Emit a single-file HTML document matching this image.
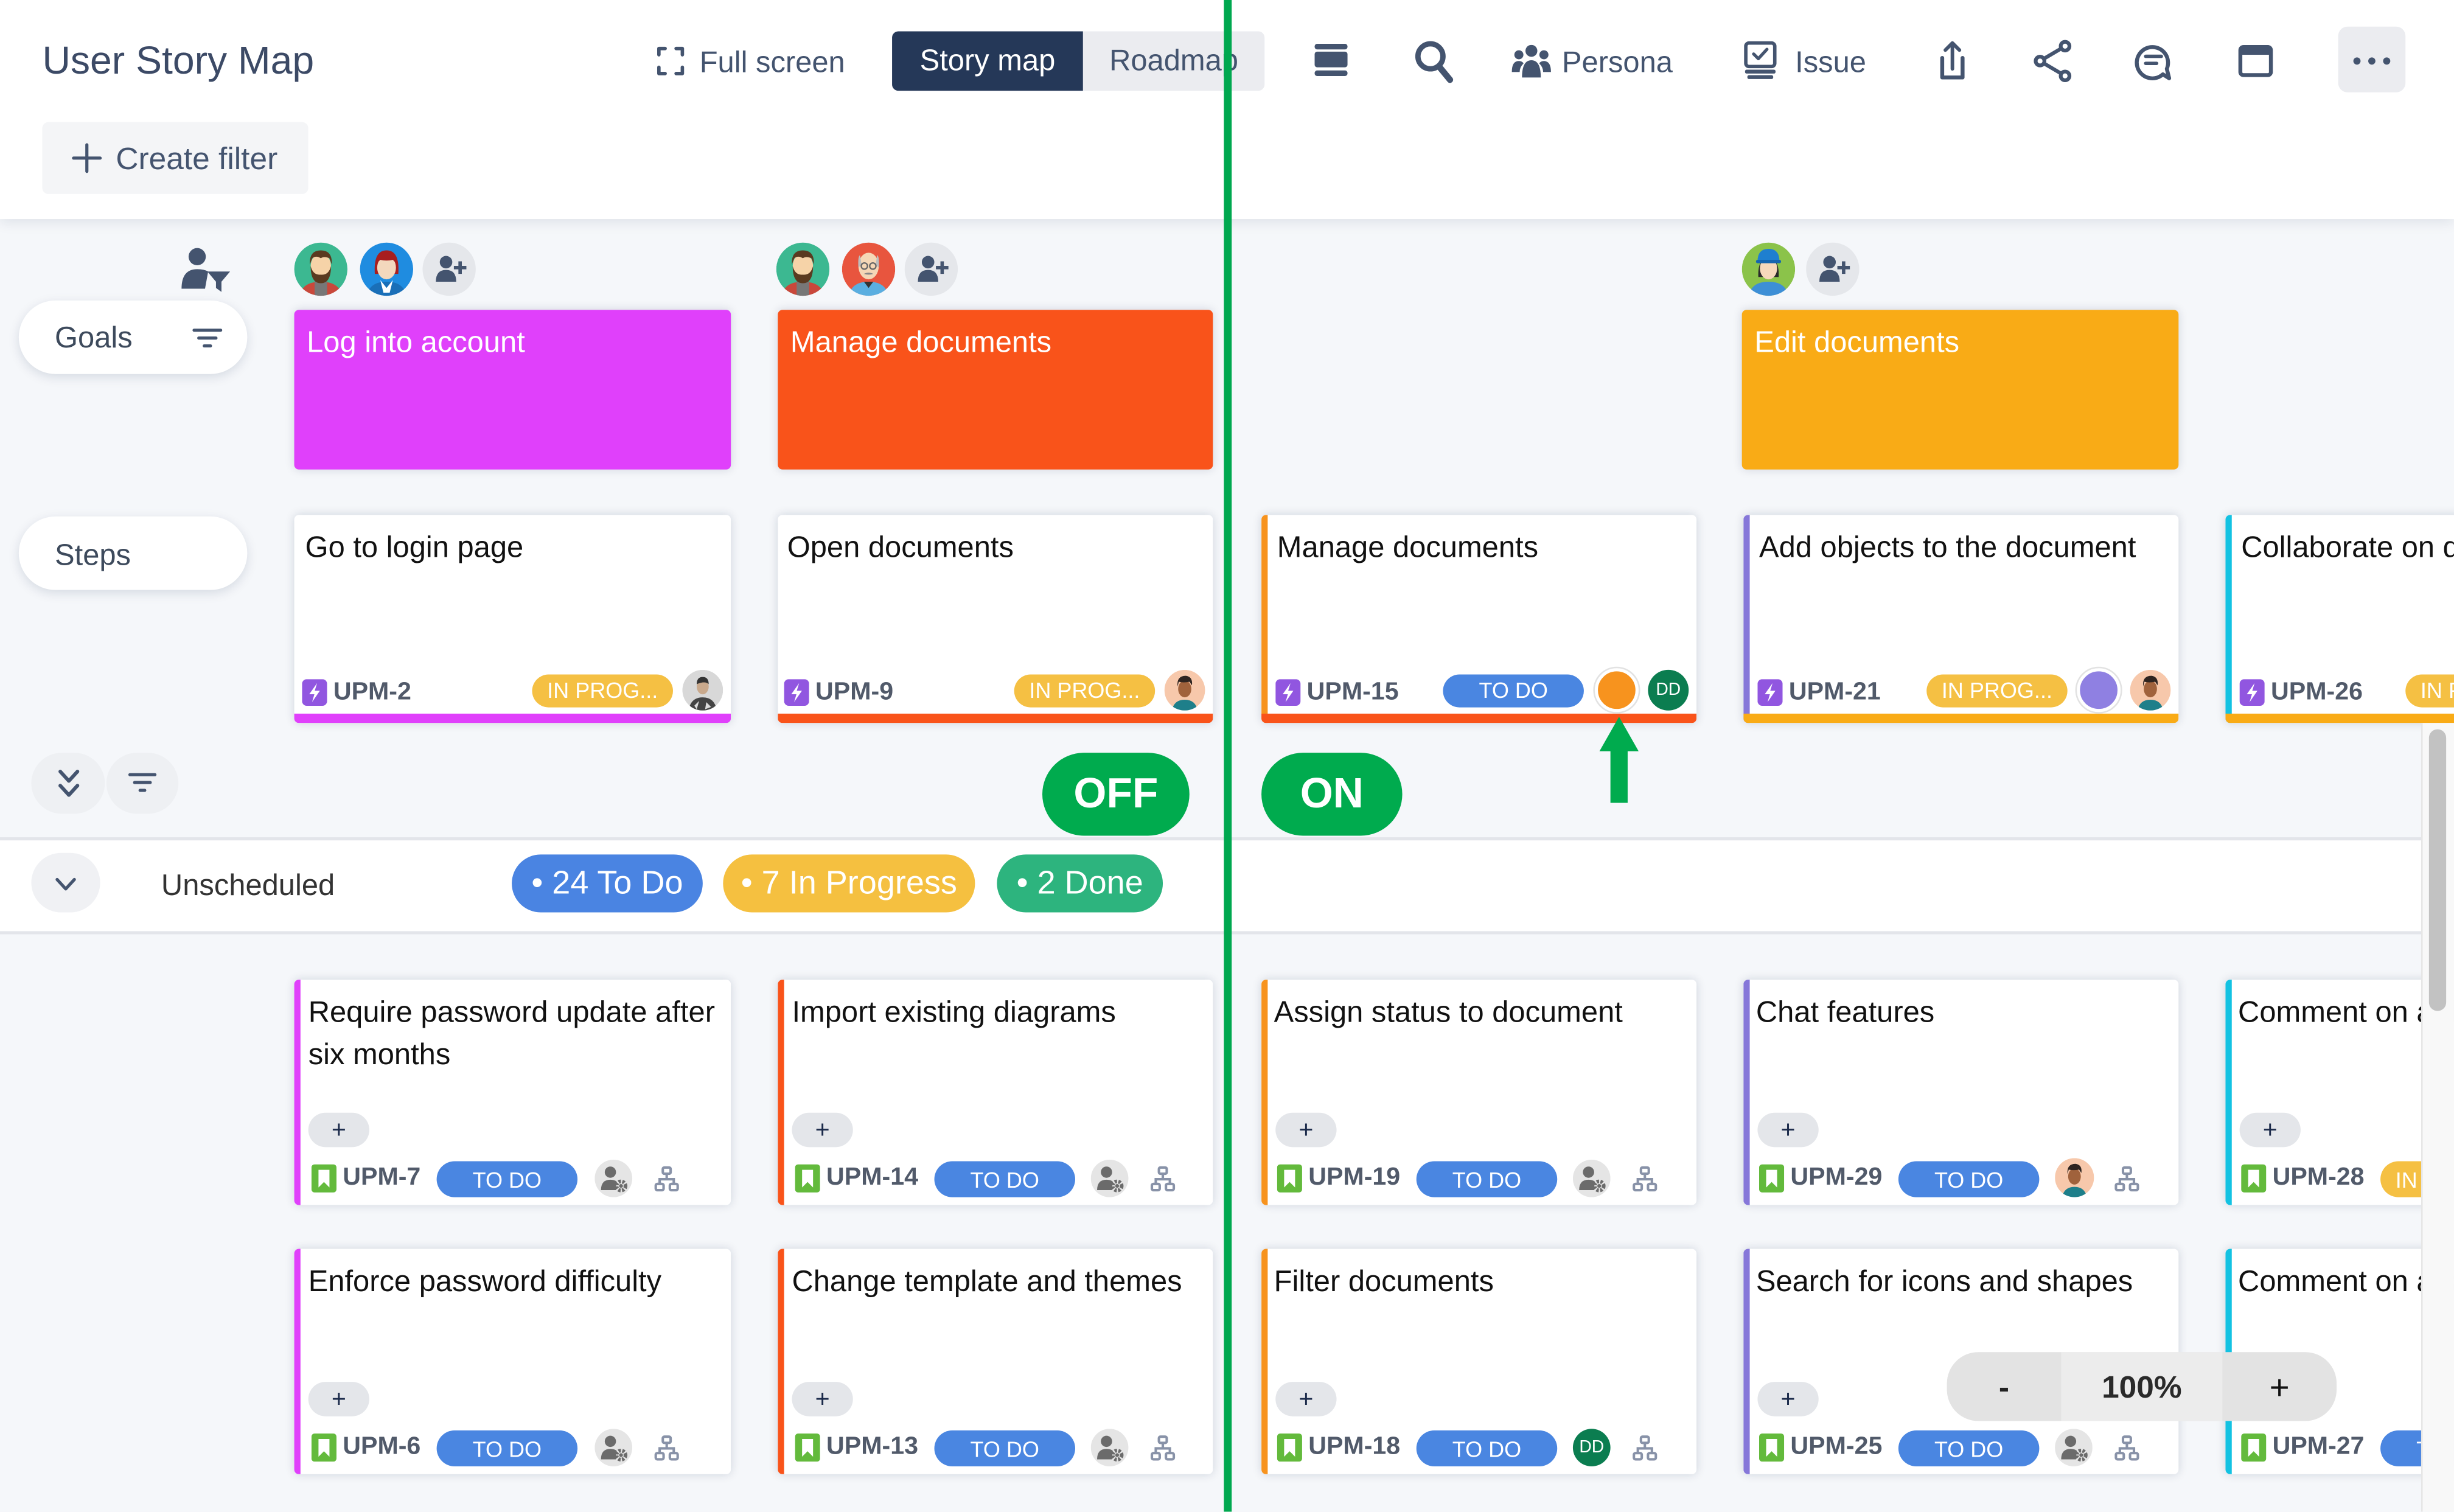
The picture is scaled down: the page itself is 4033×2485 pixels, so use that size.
<!DOCTYPE html>
<html><head><meta charset="utf-8">
<style>
html,body{margin:0;padding:0;width:4033px;height:2484px;overflow:hidden;background:#f5f7fa;}
#s{position:absolute;left:0;top:0;width:1568px;height:966px;transform:scale(2.57206);transform-origin:0 0;overflow:hidden;background:#f5f7fa;font-family:"Liberation Sans",Arial,sans-serif;}
.a{position:absolute;}
.hdr{left:0;top:0;width:1568px;height:140px;background:#fff;box-shadow:0 2px 8px rgba(9,30,66,.10);}
.ht{color:#44546f;font-size:19px;line-height:22px;top:30px;white-space:nowrap;}
.pillL{left:12px;width:146px;height:47px;background:#fff;border-radius:24px;box-shadow:0 2px 7px rgba(9,30,66,.13);}
.pillL span{position:absolute;left:23px;top:14px;font-size:19px;line-height:22px;color:#3d4a5c;}
.goal{top:198px;height:102px;border-radius:3px;box-shadow:0 0 6px rgba(9,30,66,.15);}
.goal span{position:absolute;left:8px;top:11px;color:#fff;font-size:19px;line-height:22px;white-space:nowrap;}
.card{background:#fff;border-radius:3px;box-shadow:0 0 6px rgba(9,30,66,.16);overflow:hidden;}
.step{top:329px;height:133px;}
.low1{top:626px;height:144px;}
.low2{top:798px;height:144px;}
.bb{position:absolute;left:0;right:0;bottom:0;height:6px;}
.lb{position:absolute;left:0;top:0;bottom:0;width:4px;}
.tt{position:absolute;top:11px;font-size:19px;line-height:22px;color:#111;white-space:nowrap;}
.lt{position:absolute;top:7.5px;font-size:19px;line-height:27px;color:#111;white-space:nowrap;}
.key{position:absolute;font-weight:bold;font-size:16px;line-height:18px;color:#515a6a;white-space:nowrap;}
.st{position:absolute;width:90px;height:21px;border-radius:11px;color:#fff;font-size:14px;line-height:21px;text-align:center;white-space:nowrap;overflow:hidden;}
.ip{background:#f5c043;}
.td{background:#4a86e1;}
.plus{position:absolute;left:9px;top:85px;width:39px;height:22px;border-radius:11px;background:#e4e6ea;}
.ico{position:absolute;}
.cnt{top:546px;height:37px;border-radius:19px;color:#fff;font-size:21px;line-height:37px;text-align:center;white-space:nowrap;}
.onoff{top:481px;height:53px;border-radius:27px;background:#00ab4e;color:#fff;font-weight:bold;font-size:27px;line-height:53px;text-align:center;}
</style></head><body>
<div id="s">
<svg width="0" height="0" style="position:absolute">
<defs>
<symbol id="bolt" viewBox="0 0 16 17"><rect width="16" height="17" rx="3" fill="#9156e0"/><path d="M9.6 2.5 L4.6 9.6 H7.9 L6.4 14.6 L11.4 7.4 H8.1 Z" fill="#fff"/></symbol>
<symbol id="bm" viewBox="0 0 16 18"><rect width="16" height="18" rx="2" fill="#63ba3c"/><path d="M4.5 3.5 H11.5 V14.8 L8 11.3 L4.5 14.8 Z" fill="#fff"/></symbol>
<symbol id="gp" viewBox="0 0 24 24"><circle cx="12" cy="12" r="12" fill="#e5e5e5"/><circle cx="10" cy="8" r="3.6" fill="#6b6b6b"/><path d="M4 19.5 Q4 12.8 10 12.8 Q12.6 12.8 14 14 L13.5 19.5Z" fill="#6b6b6b"/><circle cx="16.8" cy="16.8" r="2.9" fill="none" stroke="#6b6b6b" stroke-width="2.4" stroke-dasharray="1.5 0.9"/><circle cx="16.8" cy="16.8" r="1.2" fill="#6b6b6b"/></symbol>
<symbol id="hi" viewBox="0 0 16 17"><g fill="none" stroke="#8892a8" stroke-width="1.6"><rect x="5.5" y="1" width="5" height="4" rx="1"/><path d="M8 5 V8.5 M3.5 11 V8.5 H12.5 V11"/><rect x="1" y="11.5" width="5" height="4" rx="1"/><rect x="10" y="11.5" width="5" height="4" rx="1"/></g></symbol>
<clipPath id="cc"><circle cx="17" cy="17" r="17"/></clipPath>
<symbol id="av1" viewBox="0 0 34 34"><g clip-path="url(#cc)"><circle cx="17" cy="17" r="17" fill="#3cb891"/><path d="M3 36 Q4 25 17 25 Q30 25 31 36Z" fill="#c9483b"/><rect x="13" y="24" width="8" height="12" fill="#777"/><ellipse cx="17" cy="15" rx="6.5" ry="8" fill="#f6d3a8"/><path d="M10 14 Q9.5 5 17 5 Q24.5 5 24 14 L22.5 10 Q19 8.5 17 10 Q14 8 11.5 10Z" fill="#5a3a20"/><path d="M10.5 15 Q10.5 26 17 26 Q23.5 26 23.5 15 Q22 21 17 20.5 Q12 21 10.5 15Z" fill="#5a3a20"/></g></symbol>
<symbol id="av2" viewBox="0 0 34 34"><g clip-path="url(#cc)"><circle cx="17" cy="17" r="17" fill="#1f8ce0"/><path d="M4 36 Q5 25 17 25 Q29 25 30 36Z" fill="#1a6fb8"/><path d="M13 24 L17 29 L21 24 L19 32 H15Z" fill="#fff"/><path d="M9.5 20 Q8.5 5 17 5 Q25.5 5 24.5 20Z" fill="#a81e1e"/><ellipse cx="17" cy="16" rx="6" ry="7.5" fill="#f3d8bd"/><path d="M11 13 Q12 7.5 17 7.5 Q22 7.5 23 13 L21 11 Q17 12 13 11Z" fill="#a81e1e"/></g></symbol>
<symbol id="av3" viewBox="0 0 34 34"><g clip-path="url(#cc)"><circle cx="17" cy="17" r="17" fill="#e8553e"/><path d="M4 36 Q5 25 17 25 Q29 25 30 36Z" fill="#5aaee0"/><path d="M14 25 L17 29 L20 25Z" fill="#333"/><ellipse cx="17" cy="15" rx="6.5" ry="8.5" fill="#f5d7b6"/><path d="M10.5 16 Q10 9 11.5 8 L12.5 14Z M23.5 16 Q24 9 22.5 8 L21.5 14Z" fill="#bdbdbd"/><circle cx="14.3" cy="15" r="2" fill="none" stroke="#666" stroke-width="0.9"/><circle cx="19.7" cy="15" r="2" fill="none" stroke="#666" stroke-width="0.9"/><path d="M14 20 Q17 18.5 20 20 Q17 21 14 20Z" fill="#888"/></g></symbol>
<symbol id="av4" viewBox="0 0 34 34"><g clip-path="url(#cc)"><circle cx="17" cy="17" r="17" fill="#8bc34a"/><path d="M4 36 Q5 25 17 25 Q29 25 30 36Z" fill="#3d8fd6"/><path d="M10.5 22 Q10 10 17 10 Q24 10 23.5 22Z" fill="#2a2a2a"/><ellipse cx="17" cy="16.5" rx="5.5" ry="7" fill="#f6d8bb"/><path d="M10 12 Q10 4 17 4 Q24 4 24 12Z" fill="#1e7fd0"/><rect x="9" y="11" width="16" height="2.2" rx="1" fill="#1565b0"/></g></symbol>
<symbol id="av5" viewBox="0 0 34 34"><g clip-path="url(#cc)"><circle cx="17" cy="17" r="17" fill="#f7c8ab"/><path d="M6 36 Q7 25 17 25 Q27 25 28 36Z" fill="#1e7f8a"/><ellipse cx="17" cy="16" rx="5.5" ry="7" fill="#a0623c"/><path d="M11 14 Q10 5 18 5 Q24 6 23 13 L21 10 Q16 11 12 10Z" fill="#2f2420"/></g></symbol>
<symbol id="av6" viewBox="0 0 34 34"><g clip-path="url(#cc)"><circle cx="17" cy="17" r="17" fill="#d8d8d8"/><path d="M5 36 Q6 23 17 23 Q28 23 29 36Z" fill="#444"/><path d="M10 30 L14 26 L12 33Z M20 27 L24 31 L19 33Z" fill="#ddd"/><ellipse cx="17" cy="14" rx="5" ry="6.5" fill="#c9a98c"/><path d="M12 12 Q12 6 17 6 Q22 6 22 12 Q19 9 12 12Z" fill="#333"/></g></symbol>
<symbol id="addp" viewBox="0 0 34 34"><circle cx="17" cy="17" r="17" fill="#e5e7eb"/><circle cx="15" cy="12.5" r="4" fill="#44546f"/><path d="M8.5 25 Q8.5 17.5 15 17.5 Q21.5 17.5 21.5 25Z" fill="#44546f"/><path d="M24 12 V20 M20 16 H28" stroke="#44546f" stroke-width="2.2"/></symbol>
</defs>
</svg>

<!-- Header -->
<div class="a hdr"></div>
<div class="a" style="left:27px;top:24px;font-size:25px;line-height:30px;color:#3c4a66;white-space:nowrap;">User Story Map</div>
<div class="a ht" style="left:447px;">Full screen</div>
<div class="a" style="left:570px;top:20px;width:122px;height:38px;background:#253858;border-radius:4px 0 0 4px;color:#fff;font-size:19px;line-height:40px;text-align:center;">Story map</div>
<div class="a" style="left:692px;top:20px;width:116px;height:38px;background:#ebecf0;border-radius:0 4px 4px 0;color:#44546f;font-size:19px;line-height:40px;text-align:center;">Roadmap</div>
<div class="a ht" style="left:998px;">Persona</div>
<div class="a ht" style="left:1147px;">Issue</div>
<div class="a" style="left:1494px;top:17px;width:43px;height:42px;background:#ebecf0;border-radius:6px;"></div>
<div class="a" style="left:27px;top:78px;width:170px;height:46px;background:#f4f5f7;border-radius:4px;"></div>
<div class="a" style="left:74px;top:91px;font-size:20px;line-height:22px;color:#44546f;white-space:nowrap;">Create filter</div>

<svg class="a" style="left:0;top:0" width="1568" height="240">
<g fill="none" stroke="#44546f" stroke-width="2.2" stroke-linecap="round" stroke-linejoin="round">
<path d="M421 35 V31 H425 M432 31 H436 V35 M436 43 V47 H432 M425 47 H421 V43"/>
<path d="M47 101 H64 M55.5 92.5 V109.5" stroke-width="2"/>
<circle cx="914" cy="36" r="8" stroke-width="3.4"/>
<path d="M919.5 42.5 L926.5 51" stroke-width="4"/>
<rect x="1115.5" y="27.5" width="18.5" height="15" rx="2" stroke-width="2.2"/>
<path d="M1120.5 34.5 L1123.5 37.5 L1129 31.5" stroke-width="2"/>
<path d="M1241 37 V49.5 H1254 V37" stroke-width="2.5"/>
<path d="M1247.5 44 V27.5 M1243 32 L1247.5 27.5 L1252 32" stroke-width="2.3"/>
<circle cx="1319.5" cy="29.5" r="2.8" stroke-width="2.4"/><circle cx="1303.5" cy="39" r="2.8" stroke-width="2.4"/><circle cx="1319.5" cy="48.5" r="2.8" stroke-width="2.4"/>
<path d="M1317 31 L1306 37.5 M1306 40.5 L1317 47" stroke-width="2.4"/>
<path d="M1382 47.5 A10 10 0 1 1 1384.5 44 L1386 50 Z" stroke-width="2.5"/>
<path d="M1371 36 H1381 M1371 40.5 H1378" stroke-width="2.2"/>
<rect x="1431.5" y="30" width="19.5" height="18" rx="2" stroke-width="2.5"/>
</g>
<g fill="#44546f">
<rect x="840" y="28" width="21" height="3.6" rx="1.6"/><rect x="840" y="33" width="21" height="10" rx="1.6"/><rect x="840" y="45" width="21" height="3.6" rx="1.6"/>
<circle cx="978.5" cy="32.5" r="3.8"/><circle cx="970.5" cy="35" r="2.9"/><circle cx="986.5" cy="35" r="2.9"/>
<path d="M972.5 49.5 Q972.5 38.5 978.5 38.5 Q984.5 38.5 984.5 49.5Z"/>
<path d="M966 46 Q966 39 970.5 39 Q972.5 39 973.5 40.5 Q971 43 971 46Z"/>
<path d="M991 46 Q991 39 986.5 39 Q984.5 39 983.5 40.5 Q986 43 986 46Z"/>
<rect x="1115" y="44.5" width="19.5" height="2.5" rx="1"/><rect x="1116.5" y="48" width="16.5" height="2.5" rx="1"/>
<rect x="1431.5" y="30" width="19.5" height="5"/>
<circle cx="1506" cy="39" r="2.3"/><circle cx="1515.5" cy="39" r="2.3"/><circle cx="1525" cy="39" r="2.3"/>
<circle cx="126" cy="164" r="5.5"/>
<path d="M116 184.5 Q116 172 126 172 Q130.5 172 133 173.5 L131 184.5Z"/>
<path d="M132.5 173.5 H147 L141.5 180 V186.5 L138 184 V180Z"/>
</g>
</svg>

<!-- avatars -->
<svg class="a" style="left:188px;top:155px" width="34" height="34"><use href="#av1"/></svg>
<svg class="a" style="left:230px;top:155px" width="34" height="34"><use href="#av2"/></svg>
<svg class="a" style="left:270px;top:155px" width="34" height="34"><use href="#addp"/></svg>
<svg class="a" style="left:496px;top:155px" width="34" height="34"><use href="#av1"/></svg>
<svg class="a" style="left:538px;top:155px" width="34" height="34"><use href="#av3"/></svg>
<svg class="a" style="left:578px;top:155px" width="34" height="34"><use href="#addp"/></svg>
<svg class="a" style="left:1113px;top:155px" width="34" height="34"><use href="#av4"/></svg>
<svg class="a" style="left:1154px;top:155px" width="34" height="34"><use href="#addp"/></svg>

<!-- Goals / Steps -->
<div class="a pillL" style="top:192px;"><span>Goals</span></div>
<svg class="a" style="left:120px;top:205px" width="26" height="24"><path d="M4 6 H21 M7 11 H18 M10.5 16 H14.5" stroke="#44546f" stroke-width="2" fill="none" stroke-linecap="round"/></svg>
<div class="a pillL" style="top:330px;"><span style="top:15px">Steps</span></div>

<div class="a goal" style="left:188px;width:279px;background:#e040fb;"><span>Log into account</span></div>
<div class="a goal" style="left:497px;width:278px;background:#f9531a;"><span>Manage documents</span></div>
<div class="a goal" style="left:1113px;width:279px;background:#f9ab16;"><span>Edit documents</span></div>

<!-- Step cards -->
<div class="a card step" style="left:188px;width:279px;">
 <div class="bb" style="background:#e040fb"></div>
 <div class="tt" style="left:7px">Go to login page</div>
 <svg class="ico" style="left:5px;top:105px" width="16" height="17"><use href="#bolt"/></svg>
 <div class="key" style="left:25px;top:105px">UPM-2</div>
 <div class="st ip" style="left:152px;top:102px">IN PROG...</div>
 <svg class="ico" style="left:248px;top:99px" width="26" height="26" viewBox="0 0 34 34"><use href="#av6"/></svg>
</div>
<div class="a card step" style="left:497px;width:278px;">
 <div class="bb" style="background:#f9531a"></div>
 <div class="tt" style="left:6px">Open documents</div>
 <svg class="ico" style="left:4px;top:105px" width="16" height="17"><use href="#bolt"/></svg>
 <div class="key" style="left:24px;top:105px">UPM-9</div>
 <div class="st ip" style="left:151px;top:102px">IN PROG...</div>
 <svg class="ico" style="left:247px;top:99px" width="26" height="26" viewBox="0 0 34 34"><use href="#av5"/></svg>
</div>
<div class="a card step" style="left:806px;width:278px;">
 <div class="lb" style="background:#f7931e"></div>
 <div class="bb" style="background:#f9531a"></div>
 <div class="tt" style="left:10px">Manage documents</div>
 <svg class="ico" style="left:9px;top:105px" width="16" height="17"><use href="#bolt"/></svg>
 <div class="key" style="left:29px;top:105px">UPM-15</div>
 <div class="st td" style="left:116px;top:102px">TO DO</div>
 <div class="ico" style="left:213px;top:98px;width:24px;height:24px;border-radius:50%;background:#f7931e;border:2px solid #fff;box-shadow:0 0 0 1px #e2e2e2;"></div>
 <div class="ico" style="left:247px;top:99px;width:26px;height:26px;border-radius:50%;background:#0b7d50;color:#fff;font-size:11px;line-height:26px;text-align:center;">DD</div>
</div>
<div class="a card step" style="left:1114px;width:278px;">
 <div class="lb" style="background:#8677d9"></div>
 <div class="bb" style="background:#f9ab16"></div>
 <div class="tt" style="left:10px">Add objects to the document</div>
 <svg class="ico" style="left:9px;top:105px" width="16" height="17"><use href="#bolt"/></svg>
 <div class="key" style="left:29px;top:105px">UPM-21</div>
 <div class="st ip" style="left:117px;top:102px">IN PROG...</div>
 <div class="ico" style="left:213px;top:98px;width:24px;height:24px;border-radius:50%;background:#8f80e2;border:2px solid #fff;box-shadow:0 0 0 1px #e2e2e2;"></div>
 <svg class="ico" style="left:247px;top:99px" width="26" height="26" viewBox="0 0 34 34"><use href="#av5"/></svg>
</div>
<div class="a card step" style="left:1422px;width:279px;">
 <div class="lb" style="background:#13c2e2"></div>
 <div class="bb" style="background:#f9ab16"></div>
 <div class="tt" style="left:10px">Collaborate on documents</div>
 <svg class="ico" style="left:9px;top:105px" width="16" height="17"><use href="#bolt"/></svg>
 <div class="key" style="left:29px;top:105px">UPM-26</div>
 <div class="st ip" style="left:115px;top:102px">IN PROG...</div>
</div>

<!-- controls row -->
<div class="a" style="left:20px;top:481px;width:47px;height:39px;border-radius:20px;background:#eef0f3;"></div>
<div class="a" style="left:68px;top:481px;width:46px;height:39px;border-radius:20px;background:#eef0f3;"></div>
<svg class="a" style="left:0;top:470px" width="130" height="130">
<g fill="none" stroke="#44546f" stroke-width="2.3" stroke-linecap="round" stroke-linejoin="round">
<path d="M38.5 23 L44 29 L49.5 23 M38.5 32 L44 38 L49.5 32"/>
<path d="M83 25 H99 M86 30 H96 M89.5 35 H92.5" stroke-width="2"/>
<path d="M36.5 92 L42 98 L47.5 92" stroke-width="2"/>
</g>
</svg>
<div class="a onoff" style="left:666px;width:94px;">OFF</div>
<div class="a onoff" style="left:806px;width:90px;">ON</div>
<svg class="a" style="left:1015px;top:450px" width="40" height="70"><path d="M7 30 L19.5 8 L32 30 H25 V63 H14 V30 Z" fill="#00ab4e"/></svg>

<!-- Unscheduled row -->
<div class="a" style="left:0;top:535px;width:1548px;height:58px;background:#fff;border-top:2px solid #e3e5ea;border-bottom:2px solid #e3e5ea;"></div>
<div class="a" style="left:20px;top:545px;width:44px;height:38px;border-radius:20px;background:#f0f1f4;"></div>
<svg class="a" style="left:0;top:540px" width="80" height="50"><path d="M36.5 22 L42 28 L47.5 22" fill="none" stroke="#44546f" stroke-width="2" stroke-linecap="round" stroke-linejoin="round"/></svg>
<div class="a" style="left:103px;top:556px;font-size:19px;line-height:22px;color:#333;white-space:nowrap;">Unscheduled</div>
<div class="a cnt" style="left:327px;width:122px;background:#4a84e2;">• 24 To Do</div>
<div class="a cnt" style="left:462px;width:161px;background:#f5c040;">• 7 In Progress</div>
<div class="a cnt" style="left:637px;width:106px;background:#2db47e;">• 2 Done</div>

<!-- Lower cards row 1 -->
<div class="a card low1" style="left:188px;width:279px;">
 <div class="lb" style="background:#e040fb"></div>
 <div class="lt" style="left:9px">Require password update after<br>six months</div>
 <div class="plus"></div>
 <div class="key" style="left:9px;top:88px;width:39px;text-align:center;color:#1b2a4a;font-weight:normal;font-size:16px">+</div>
 <svg class="ico" style="left:11px;top:118px" width="16" height="18"><use href="#bm"/></svg>
 <div class="key" style="left:31px;top:118px">UPM-7</div>
 <div class="st td" style="left:91px;top:115.5px;height:23px;line-height:24px;border-radius:12px">TO DO</div>
 <svg class="ico" style="left:192px;top:115px" width="24" height="24"><use href="#gp"/></svg>
 <svg class="ico" style="left:230px;top:119px" width="16" height="17"><use href="#hi"/></svg>
</div>
<div class="a card low1" style="left:497px;width:278px;">
 <div class="lb" style="background:#f9531a"></div>
 <div class="lt" style="left:9px">Import existing diagrams</div>
 <div class="plus"></div>
 <div class="key" style="left:9px;top:88px;width:39px;text-align:center;color:#1b2a4a;font-weight:normal;font-size:16px">+</div>
 <svg class="ico" style="left:11px;top:118px" width="16" height="18"><use href="#bm"/></svg>
 <div class="key" style="left:31px;top:118px">UPM-14</div>
 <div class="st td" style="left:100px;top:115.5px;height:23px;line-height:24px;border-radius:12px">TO DO</div>
 <svg class="ico" style="left:200px;top:115px" width="24" height="24"><use href="#gp"/></svg>
 <svg class="ico" style="left:238px;top:119px" width="16" height="17"><use href="#hi"/></svg>
</div>
<div class="a card low1" style="left:806px;width:278px;">
 <div class="lb" style="background:#f7931e"></div>
 <div class="lt" style="left:8px">Assign status to document</div>
 <div class="plus"></div>
 <div class="key" style="left:9px;top:88px;width:39px;text-align:center;color:#1b2a4a;font-weight:normal;font-size:16px">+</div>
 <svg class="ico" style="left:10px;top:118px" width="16" height="18"><use href="#bm"/></svg>
 <div class="key" style="left:30px;top:118px">UPM-19</div>
 <div class="st td" style="left:99px;top:115.5px;height:23px;line-height:24px;border-radius:12px">TO DO</div>
 <svg class="ico" style="left:199px;top:115px" width="24" height="24"><use href="#gp"/></svg>
 <svg class="ico" style="left:237px;top:119px" width="16" height="17"><use href="#hi"/></svg>
</div>
<div class="a card low1" style="left:1114px;width:278px;">
 <div class="lb" style="background:#8677d9"></div>
 <div class="lt" style="left:8px">Chat features</div>
 <div class="plus"></div>
 <div class="key" style="left:9px;top:88px;width:39px;text-align:center;color:#1b2a4a;font-weight:normal;font-size:16px">+</div>
 <svg class="ico" style="left:10px;top:118px" width="16" height="18"><use href="#bm"/></svg>
 <div class="key" style="left:30px;top:118px">UPM-29</div>
 <div class="st td" style="left:99px;top:115.5px;height:23px;line-height:24px;border-radius:12px">TO DO</div>
 <svg class="ico" style="left:199px;top:114px" width="25" height="25" viewBox="0 0 34 34"><use href="#av5"/></svg>
 <svg class="ico" style="left:237px;top:119px" width="16" height="17"><use href="#hi"/></svg>
</div>
<div class="a card low1" style="left:1422px;width:279px;">
 <div class="lb" style="background:#13c2e2"></div>
 <div class="lt" style="left:8px">Comment on a document</div>
 <div class="plus"></div>
 <div class="key" style="left:9px;top:88px;width:39px;text-align:center;color:#1b2a4a;font-weight:normal;font-size:16px">+</div>
 <svg class="ico" style="left:10px;top:118px" width="16" height="18"><use href="#bm"/></svg>
 <div class="key" style="left:30px;top:118px">UPM-28</div>
 <div class="st ip" style="left:99px;top:115.5px;height:23px;line-height:24px;border-radius:12px">IN PROG...</div>
</div>

<!-- Lower cards row 2 -->
<div class="a card low2" style="left:188px;width:279px;">
 <div class="lb" style="background:#e040fb"></div>
 <div class="lt" style="left:9px">Enforce password difficulty</div>
 <div class="plus"></div>
 <div class="key" style="left:9px;top:88px;width:39px;text-align:center;color:#1b2a4a;font-weight:normal;font-size:16px">+</div>
 <svg class="ico" style="left:11px;top:118px" width="16" height="18"><use href="#bm"/></svg>
 <div class="key" style="left:31px;top:118px">UPM-6</div>
 <div class="st td" style="left:91px;top:115.5px;height:23px;line-height:24px;border-radius:12px">TO DO</div>
 <svg class="ico" style="left:192px;top:115px" width="24" height="24"><use href="#gp"/></svg>
 <svg class="ico" style="left:230px;top:119px" width="16" height="17"><use href="#hi"/></svg>
</div>
<div class="a card low2" style="left:497px;width:278px;">
 <div class="lb" style="background:#f9531a"></div>
 <div class="lt" style="left:9px">Change template and themes</div>
 <div class="plus"></div>
 <div class="key" style="left:9px;top:88px;width:39px;text-align:center;color:#1b2a4a;font-weight:normal;font-size:16px">+</div>
 <svg class="ico" style="left:11px;top:118px" width="16" height="18"><use href="#bm"/></svg>
 <div class="key" style="left:31px;top:118px">UPM-13</div>
 <div class="st td" style="left:100px;top:115.5px;height:23px;line-height:24px;border-radius:12px">TO DO</div>
 <svg class="ico" style="left:200px;top:115px" width="24" height="24"><use href="#gp"/></svg>
 <svg class="ico" style="left:238px;top:119px" width="16" height="17"><use href="#hi"/></svg>
</div>
<div class="a card low2" style="left:806px;width:278px;">
 <div class="lb" style="background:#f7931e"></div>
 <div class="lt" style="left:8px">Filter documents</div>
 <div class="plus"></div>
 <div class="key" style="left:9px;top:88px;width:39px;text-align:center;color:#1b2a4a;font-weight:normal;font-size:16px">+</div>
 <svg class="ico" style="left:10px;top:118px" width="16" height="18"><use href="#bm"/></svg>
 <div class="key" style="left:30px;top:118px">UPM-18</div>
 <div class="st td" style="left:99px;top:115.5px;height:23px;line-height:24px;border-radius:12px">TO DO</div>
 <div class="ico" style="left:199px;top:115px;width:24px;height:24px;border-radius:50%;background:#0b7d50;color:#fff;font-size:11px;line-height:24px;text-align:center;">DD</div>
 <svg class="ico" style="left:237px;top:119px" width="16" height="17"><use href="#hi"/></svg>
</div>
<div class="a card low2" style="left:1114px;width:278px;">
 <div class="lb" style="background:#8677d9"></div>
 <div class="lt" style="left:8px">Search for icons and shapes</div>
 <div class="plus"></div>
 <div class="key" style="left:9px;top:88px;width:39px;text-align:center;color:#1b2a4a;font-weight:normal;font-size:16px">+</div>
 <svg class="ico" style="left:10px;top:118px" width="16" height="18"><use href="#bm"/></svg>
 <div class="key" style="left:30px;top:118px">UPM-25</div>
 <div class="st td" style="left:99px;top:115.5px;height:23px;line-height:24px;border-radius:12px">TO DO</div>
 <svg class="ico" style="left:199px;top:115px" width="24" height="24"><use href="#gp"/></svg>
 <svg class="ico" style="left:237px;top:119px" width="16" height="17"><use href="#hi"/></svg>
</div>
<div class="a card low2" style="left:1422px;width:279px;">
 <div class="lb" style="background:#13c2e2"></div>
 <div class="lt" style="left:8px">Comment on a shape</div>
 <div class="plus"></div>
 <div class="key" style="left:9px;top:88px;width:39px;text-align:center;color:#1b2a4a;font-weight:normal;font-size:16px">+</div>
 <svg class="ico" style="left:10px;top:118px" width="16" height="18"><use href="#bm"/></svg>
 <div class="key" style="left:30px;top:118px">UPM-27</div>
 <div class="st td" style="left:99px;top:115.5px;height:23px;line-height:24px;border-radius:12px">TO DO</div>
</div>

<!-- scrollbar -->
<div class="a" style="left:1547px;top:462px;width:21px;height:504px;background:#f8f8f8;border-left:1px solid #e6e6e6;"></div>
<div class="a" style="left:1552px;top:466px;width:11px;height:180px;border-radius:6px;background:#c2c2c2;"></div>

<!-- zoom control -->
<div class="a" style="left:1244px;top:864px;width:249px;height:44px;border-radius:20px;background:#e3e3e3;overflow:hidden;">
 <div class="a" style="left:73px;top:0;width:103px;height:44px;background:#ececec;"></div>
 <div class="a" style="left:0;top:0;width:73px;height:44px;line-height:46px;text-align:center;font-size:20px;font-weight:bold;color:#222;">-</div>
 <div class="a" style="left:73px;top:0;width:103px;height:44px;line-height:46px;text-align:center;font-size:20px;font-weight:bold;color:#2a2a2a;">100%</div>
 <div class="a" style="left:176px;top:0;width:73px;height:44px;line-height:46px;text-align:center;font-size:22px;color:#111;">+</div>
</div>

<!-- green divider line -->
<div class="a" style="left:781.5px;top:0;width:5px;height:966px;background:#00a84f;"></div>
</div>
</body></html>
